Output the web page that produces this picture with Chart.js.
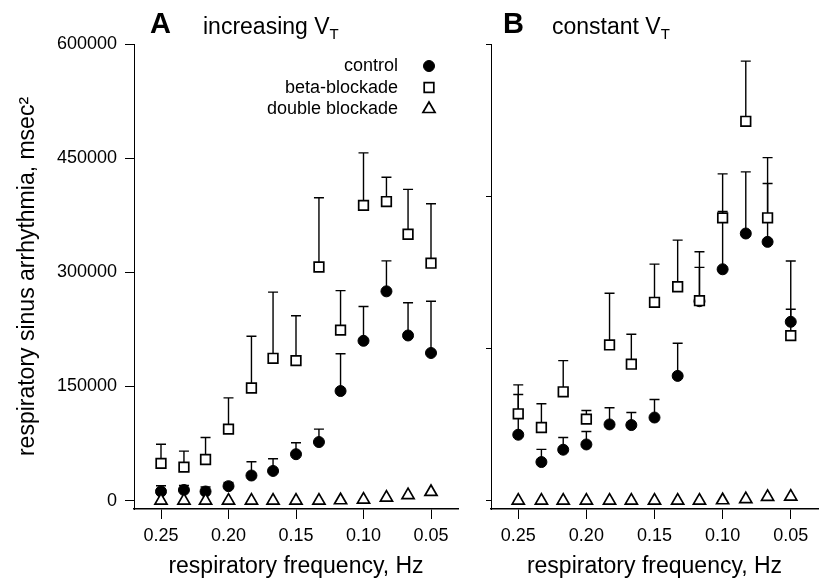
<!DOCTYPE html>
<html>
<head>
<meta charset="utf-8">
<script src="https://cdn.jsdelivr.net/npm/chart.js@4.4.1/dist/chart.umd.min.js"></script>
<style>
    body { margin: 0; background: #fff; width: 827px; height: 581px; position: relative; overflow: hidden;
           font-family: "Liberation Sans", Arial, Helvetica, sans-serif; color: #000; }
    #wrapA { position: absolute; left: 0; top: 0; width: 470px; height: 581px; }
    #wrapB { position: absolute; left: 470px; top: 0; width: 357px; height: 581px; }
    .letter { position: absolute; font-weight: bold; font-size: 29px; line-height: 29px; }
    .panelTitle { position: absolute; font-size: 23px; line-height: 23px; white-space: nowrap; }
    .panelTitle sub { font-size: 15px; vertical-align: -5px; line-height: 0; }
</style>
</head>
<body>
<div id="wrapA"><canvas id="chartA" width="470" height="581"></canvas></div>
<div id="wrapB"><canvas id="chartB" width="357" height="581"></canvas></div>
<div class="letter" style="left:150px; top:9px;">A</div>
<div class="panelTitle" style="left:203px; top:15px;">increasing V<sub>T</sub></div>
<div class="letter" style="left:503px; top:9px;">B</div>
<div class="panelTitle" style="left:552px; top:15px;">constant V<sub>T</sub></div>

<script>
    "use strict";

    // breathing frequencies, Hz (15 down to 3 breaths/min)
    const freqs = [0.25, 0.233, 0.217, 0.20, 0.183, 0.167, 0.15, 0.133, 0.117, 0.10, 0.083, 0.067, 0.05];
    const xTicks = [0.25, 0.20, 0.15, 0.10, 0.05];
    const yTicksA = [0, 150000, 300000, 450000, 600000];
    const yTicksB = [0, 200000, 400000, 600000];
    const legendNames = ["control", "beta-blockade", "double blockade"];

    // panel A - increasing VT (values and top of error bars)
    const aControl    = [12000, 14000, 12000, 19000, 33000, 39000, 61000, 77000, 144000, 210000, 275000, 217000, 194000];
    const aControlTop = [19500, 20000, 18000, 24000, 51000, 55000, 76000, 94000, 193000, 255000, 315000, 260000, 262000];
    const aBeta       = [49000, 44000, 54000, 94000, 148000, 187000, 184000, 307000, 224000, 388000, 393000, 350000, 312000];
    const aBetaTop    = [74000, 65000, 83000, 135000, 216000, 274000, 243000, 398000, 276000, 457000, 425000, 409000, 390000];
    const aDouble     = [0, 0, 0, 0, 0, 0, 0, 0, 500, 1300, 4000, 7200, 11400];

    // panel B - constant VT
    const bControl    = [86600, 50700, 66900, 73800, 100100, 99300, 109200, 163900, 262000, 304000, 351000, 340000, 235000];
    const bControlTop = [139400, 67300, 83000, 90900, 122000, 115800, 132900, 206800, 306500, 380000, 432000, 416700, 314800];
    const bBeta       = [114100, 96100, 143000, 107100, 204600, 179300, 260600, 281000, 262700, 371500, 498400, 371600, 216800];
    const bBetaTop    = [152100, 127200, 184000, 118400, 272400, 218600, 310800, 342300, 327000, 429300, 577500, 450700, 251400];
    const bDouble     = [0, 0, 0, 0, 0, 0, 0, 0, 0, 500, 2000, 4900, 5200];

    const INK = "#000";
    const FONT = '"Liberation Sans", Arial, Helvetica, sans-serif';

    function pts(values) {
        return values.map(function (v, i) { return {x: freqs[i], y: v}; });
    }

    function makeDatasets(control, controlTop, beta, betaTop, dbl) {
        // index 0 is drawn last (on top)
        return [
            {label: "double blockade", data: pts(dbl), pointStyle: "triangle", pointRadius: 7,
                backgroundColor: "#fff", borderColor: INK, borderWidth: 1.7},
            {label: "beta-blockade", data: pts(beta), errTop: betaTop, pointStyle: "rect", pointRadius: 6.8,
                backgroundColor: "#fff", borderColor: INK, borderWidth: 1.7},
            {label: "control", data: pts(control), errTop: controlTop, pointStyle: "circle", pointRadius: 5.5,
                backgroundColor: INK, borderColor: INK, borderWidth: 1}
        ];
    }

    // upper error bars with small caps
    const errorBars = {
        id: "errorBars",
        beforeDatasetsDraw: function (chart) {
            const ctx = chart.ctx, xs = chart.scales.x, ys = chart.scales.y;
            ctx.save();
            ctx.strokeStyle = INK;
            ctx.lineWidth = 1.4;
            chart.data.datasets.forEach(function (ds) {
                if (!ds.errTop) return;
                ds.data.forEach(function (p, i) {
                    const x = xs.getPixelForValue(p.x);
                    const y0 = ys.getPixelForValue(p.y);
                    const y1 = ys.getPixelForValue(ds.errTop[i]);
                    ctx.beginPath();
                    ctx.moveTo(x, y0);
                    ctx.lineTo(x, y1);
                    ctx.moveTo(x - 5, y1);
                    ctx.lineTo(x + 5, y1);
                    ctx.stroke();
                });
            });
            ctx.restore();
        }
    };

    // legend in panel A: text right aligned, symbol to the right
    const legendA = {
        id: "legendA",
        afterDraw: function (chart) {
            const ctx = chart.ctx, area = chart.chartArea;
            ctx.save();
            ctx.font = "18px " + FONT;
            ctx.textAlign = "right";
            ctx.textBaseline = "alphabetic";
            legendNames.forEach(function (name, i) {
                const ds = chart.data.datasets.find(function (d) { return d.label === name; });
                const y = area.top + 22 + i * 21.5;
                ctx.fillStyle = INK;
                ctx.fillText(name, area.right - 60, y + 5);
                ctx.fillStyle = ds.backgroundColor;
                ctx.strokeStyle = ds.borderColor;
                ctx.lineWidth = ds.borderWidth;
                Chart.helpers.drawPoint(ctx, {pointStyle: ds.pointStyle, radius: ds.pointRadius,
                    borderWidth: ds.borderWidth}, area.right - 29, y);
            });
            ctx.restore();
        }
    };

    function makeChart(id, datasets, opts) {
        return new Chart(document.getElementById(id), {
            type: "scatter",
            data: {datasets: datasets},
            plugins: opts.plugins,
            options: {
                responsive: false,
                animation: false,
                events: [],
                layout: {padding: {left: 0, right: opts.padRight, top: 44, bottom: 0}},
                plugins: {legend: {display: false}, tooltip: {enabled: false}},
                scales: {
                    x: {
                        type: "linear",
                        reverse: true,
                        min: 0.03,
                        max: 0.27,
                        afterBuildTicks: function (scale) {
                            scale.ticks = xTicks.map(function (v) { return {value: v}; });
                        },
                        afterFit: function (scale) { scale.height = 72; },
                        border: {display: true, color: INK, width: 1.5},
                        grid: {drawOnChartArea: false, drawTicks: true, tickLength: 10, color: INK, lineWidth: 1},
                        ticks: {
                            color: INK, padding: 6, maxRotation: 0,
                            font: {family: FONT, size: 18},
                            callback: function (v) { return Number(v).toFixed(2); }
                        },
                        title: {
                            display: true, text: "respiratory frequency, Hz", color: INK,
                            font: {family: FONT, size: 23, lineHeight: 1.2}, padding: {top: 0, bottom: 1}
                        }
                    },
                    y: {
                        type: "linear",
                        min: -11000,
                        max: 600000,
                        afterBuildTicks: function (scale) {
                            scale.ticks = opts.yTicks.map(function (v) { return {value: v}; });
                        },
                        afterFit: function (scale) { scale.width = opts.yWidth; },
                        border: {display: true, color: INK, width: 1},
                        grid: {drawOnChartArea: false, drawTicks: true, tickLength: opts.yTickLen, color: INK, lineWidth: 1},
                        ticks: {
                            display: opts.yLabels, color: INK, padding: 8,
                            font: {family: FONT, size: 18},
                            callback: function (v) { return String(v); }
                        },
                        title: {
                            display: opts.yLabels, text: "respiratory sinus arrhythmia, msec²", color: INK,
                            font: {family: FONT, size: 23, lineHeight: 1.2}, padding: {top: 14, bottom: 0}
                        }
                    }
                }
            }
        });
    }

    makeChart("chartA", makeDatasets(aControl, aControlTop, aBeta, aBetaTop, aDouble), {
        plugins: [errorBars, legendA], padRight: 12, yWidth: 134, yTickLen: 9, yLabels: true, yTicks: yTicksA
    });
    makeChart("chartB", makeDatasets(bControl, bControlTop, bBeta, bBetaTop, bDouble), {
        plugins: [errorBars], padRight: 9, yWidth: 21, yTickLen: 5, yLabels: false, yTicks: yTicksB
    });
</script>
</body>
</html>
